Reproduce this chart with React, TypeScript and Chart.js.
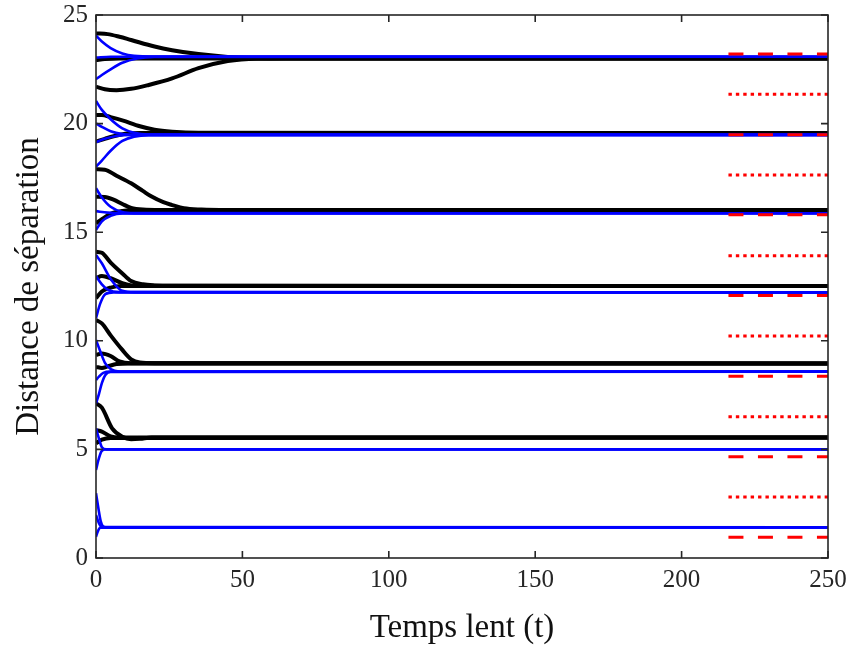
import React, { useEffect, useRef } from 'react';
import { Chart, registerables } from 'chart.js';
Chart.register(...registerables);

type Pt = [number, number];

const xTicks = [0, 50, 100, 150, 200, 250];
const yTicks = [0, 5, 10, 15, 20, 25];
const xTitle = 'Temps lent (t)';
const yTitle = 'Distance de séparation';

// Black trajectories (t, distance)
const group1Black: Pt[][] = [
  [[0, 24.15], [4, 24.12], [8, 24.0], [12, 23.85], [20, 23.55], [26, 23.38], [35, 23.2], [45, 23.07], [55, 23.01], [65, 23.0], [250, 23.0]],
  [[0, 22.93], [3, 22.97], [8, 23.0], [250, 23.0]],
  [[0, 21.7], [3, 21.58], [7, 21.54], [12, 21.6], [18, 21.78], [26, 22.08], [35, 22.55], [45, 22.88], [55, 22.99], [65, 23.0], [250, 23.0]],
];
const group2Black: Pt[][] = [
  [[0, 20.4], [2, 20.4], [5, 20.3], [9, 20.15], [15, 19.88], [20, 19.72], [26, 19.63], [35, 19.58], [250, 19.57]],
  [[0, 19.17], [3, 19.3], [6, 19.42], [10, 19.53], [15, 19.57], [250, 19.57]],
];
const group3Black: Pt[][] = [
  [[0, 17.9], [3, 17.88], [7, 17.6], [12, 17.25], [16, 16.9], [19, 16.64], [23, 16.38], [26, 16.25], [30, 16.1], [36, 16.04], [45, 16.02], [250, 16.02]],
  [[0, 16.63], [3, 16.62], [6, 16.5], [9, 16.3], [12, 16.12], [16, 16.04], [22, 16.02], [250, 16.02]],
  [[0, 15.41], [2, 15.6], [5, 15.85], [9, 15.98], [14, 16.02], [250, 16.02]],
];
const group4Black: Pt[][] = [
  [[0, 14.1], [2, 14.05], [5, 13.6], [9, 13.1], [12, 12.75], [16, 12.6], [20, 12.55], [26, 12.53], [250, 12.52]],
  [[0, 12.88], [2, 12.98], [5, 12.88], [9, 12.65], [13, 12.54], [250, 12.52]],
  [[0, 11.96], [2, 12.27], [5, 12.45], [9, 12.52], [250, 12.52]],
];
const group5Black: Pt[][] = [
  [[0, 10.96], [2, 10.8], [5, 10.25], [9, 9.58], [12, 9.15], [15, 9.0], [20, 8.97], [250, 8.96]],
  [[0, 9.35], [2, 9.42], [5, 9.3], [8, 9.05], [12, 8.97], [250, 8.96]],
  [[0, 8.8], [2, 8.75], [4, 8.82], [7, 8.93], [12, 8.96], [250, 8.96]],
];
const group6Black: Pt[][] = [
  [[0, 7.12], [2, 6.92], [5.5, 5.97], [9, 5.58], [12, 5.47], [15, 5.49], [19, 5.55], [25, 5.55], [250, 5.55]],
  [[0, 5.89], [2, 5.82], [5, 5.6], [8, 5.55], [250, 5.55]],
  [[0, 5.28], [2, 5.45], [5, 5.53], [250, 5.55]],
];

// Blue trajectories (t, distance)
const group1Blue: Pt[][] = [
  [[0, 24.05], [2, 23.78], [5, 23.48], [9, 23.23], [13, 23.12], [20, 23.09], [250, 23.08]],
  [[0, 23.04], [5, 23.08], [250, 23.08]],
  [[0, 22.04], [2, 22.24], [5, 22.5], [9, 22.8], [14, 23.0], [20, 23.07], [250, 23.08]],
];
const group2Blue: Pt[][] = [
  [[0, 21.04], [2, 20.63], [5, 20.2], [9, 19.78], [13, 19.58], [18, 19.5], [250, 19.48]],
  [[0, 20.01], [2, 19.85], [5, 19.65], [9, 19.52], [14, 19.48], [250, 19.48]],
  [[0, 19.15], [3, 19.3], [7, 19.43], [12, 19.48], [250, 19.48]],
  [[0, 18.02], [2, 18.3], [5, 18.75], [9, 19.2], [13, 19.4], [18, 19.47], [250, 19.48]],
];
const group3Blue: Pt[][] = [
  [[0, 17.02], [2, 16.6], [5, 16.17], [9, 15.93], [13, 15.88], [250, 15.87]],
  [[0, 15.97], [4, 15.9], [8, 15.87], [250, 15.87]],
  [[0, 15.1], [2, 15.5], [5, 15.75], [9, 15.86], [250, 15.87]],
];
const group4Blue: Pt[][] = [
  [[0, 13.95], [2, 13.57], [5, 12.85], [9, 12.3], [13, 12.24], [250, 12.23]],
  [[0, 12.98], [2, 12.6], [4, 12.36], [8, 12.24], [250, 12.23]],
  [[0, 11.04], [1.4, 11.7], [3.2, 12.15], [6, 12.23], [250, 12.23]],
];
const group5Blue: Pt[][] = [
  [[0, 10.04], [1.5, 9.5], [3, 9.0], [5, 8.7], [8, 8.59], [250, 8.58]],
  [[0, 8.2], [1, 8.35], [2.5, 8.52], [5, 8.58], [250, 8.58]],
  [[0, 7.12], [1, 7.55], [2, 8.05], [3.2, 8.43], [5, 8.57], [250, 8.58]],
];
const group6Blue: Pt[][] = [
  [[0, 5.97], [1, 5.5], [2, 5.1], [3.5, 5.0], [250, 5.0]],
  [[0, 4.05], [0.8, 4.5], [1.8, 4.9], [3, 5.0], [250, 5.0]],
];
const group7Blue: Pt[][] = [
  [[0, 2.98], [0.8, 2.3], [1.6, 1.7], [2.5, 1.45], [4, 1.41], [250, 1.41]],
  [[0, 1.98], [1, 1.6], [2, 1.43], [250, 1.41]],
  [[0, 0.98], [0.7, 1.25], [1.5, 1.4], [250, 1.41]],
];

// Red reference levels (short segments at the right)
const dashedLevels = [23.2, 19.49, 15.8, 12.08, 8.37, 4.66, 0.95];
const dottedLevels = [21.35, 17.63, 13.92, 10.22, 6.5, 2.81];
const redSpan = [216, 250];

const FONT = "'Liberation Serif', 'Times New Roman', serif";
const AXIS = '#262626';

const toXY = (c: Pt[]) => c.map(([x, y]) => ({ x, y }));

const boxPlugin = {
  id: 'boxTicks',
  afterDatasetsDraw(chart: any) {
    const { ctx, chartArea: a, scales } = chart;
    const xs = scales.x, ys = scales.y;
    const L = 7;
    ctx.save();
    ctx.strokeStyle = AXIS;
    ctx.lineWidth = 1.6;
    ctx.beginPath();
    xTicks.forEach((v) => {
      const px = xs.getPixelForValue(v);
      ctx.moveTo(px, a.bottom); ctx.lineTo(px, a.bottom - L);
      ctx.moveTo(px, a.top); ctx.lineTo(px, a.top + L);
    });
    yTicks.forEach((v) => {
      const py = ys.getPixelForValue(v);
      ctx.moveTo(a.left, py); ctx.lineTo(a.left + L, py);
      ctx.moveTo(a.right, py); ctx.lineTo(a.right - L, py);
    });
    ctx.stroke();
    ctx.strokeRect(a.left, a.top, a.right - a.left, a.bottom - a.top);
    ctx.restore();
  },
};

export default function App() {
  const ref = useRef<HTMLCanvasElement>(null);
  useEffect(() => {
    if (!ref.current) return;
    const blacks = [...group1Black, ...group2Black, ...group3Black, ...group4Black, ...group5Black, ...group6Black];
    const blues = [...group1Blue, ...group2Blue, ...group3Blue, ...group4Blue, ...group5Blue, ...group6Blue, ...group7Blue];
    const datasets: any[] = [];
    blacks.forEach((c) => datasets.push({
      data: toXY(c), borderColor: '#000000', borderWidth: 4, pointRadius: 0,
      cubicInterpolationMode: 'monotone', order: 3, fill: false,
    }));
    blues.forEach((c) => datasets.push({
      data: toXY(c), borderColor: '#0000FF', borderWidth: 2.6, pointRadius: 0,
      cubicInterpolationMode: 'monotone', order: 2, fill: false,
    }));
    dashedLevels.forEach((v) => datasets.push({
      data: [{ x: redSpan[0], y: v }, { x: redSpan[1], y: v }], borderColor: '#FF0000',
      borderWidth: 3, borderDash: [15, 14.5], pointRadius: 0, order: 1, fill: false,
    }));
    dottedLevels.forEach((v) => datasets.push({
      data: [{ x: redSpan[0], y: v }, { x: redSpan[1], y: v }], borderColor: '#FF0000',
      borderWidth: 3, borderDash: [3.4, 4], pointRadius: 0, order: 1, fill: false,
    }));

    const chart = new Chart(ref.current, {
      type: 'line',
      data: { datasets },
      options: {
        animation: false,
        responsive: false,
        events: [],
        layout: { padding: { top: 15, right: 22, left: 0, bottom: 0 } },
        plugins: { legend: { display: false }, tooltip: { enabled: false } },
        scales: {
          x: {
            type: 'linear', min: 0, max: 250,
            afterFit: (s: any) => { s.height = 90; s.paddingLeft = 0; s.paddingRight = 0; },
            afterBuildTicks: (s: any) => { s.ticks = xTicks.map((v) => ({ value: v })); },
            grid: { display: false, drawTicks: false },
            border: { display: false },
            ticks: { font: { family: FONT, size: 25 }, color: AXIS, padding: 7, maxRotation: 0 },
            title: { display: true, text: xTitle, font: { family: FONT, size: 33 }, color: '#111', padding: { top: 4, bottom: 0 } },
          },
          y: {
            type: 'linear', min: 0, max: 25,
            afterFit: (s: any) => { s.width = 96; s.paddingTop = 0; s.paddingBottom = 0; },
            afterBuildTicks: (s: any) => { s.ticks = yTicks.map((v) => ({ value: v })); },
            grid: { display: false, drawTicks: false },
            border: { display: false },
            ticks: { font: { family: FONT, size: 25 }, color: AXIS, padding: 8 },
            title: { display: true, text: yTitle, font: { family: FONT, size: 33 }, color: '#111', padding: { top: 10, bottom: 0 } },
          },
        },
      },
      plugins: [boxPlugin],
    });
    return () => chart.destroy();
  }, []);
  return (
    <div style={{ position: 'fixed', left: 0, top: 0, width: 850, height: 648, background: '#fff' }}>
      <canvas ref={ref} width={850} height={648} style={{ width: 850, height: 648 }} />
    </div>
  );
}
